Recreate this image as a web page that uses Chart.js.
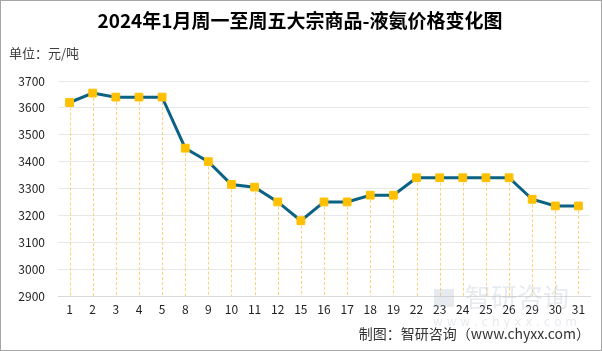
<!DOCTYPE html>
<html>
<head>
<meta charset="utf-8">
<script src="https://cdn.jsdelivr.net/npm/chart.js@4"></script>
<style>
  html, body { margin: 0; padding: 0; background: #fff; }
  #wrap { width: 602px; height: 351px; }
</style>
</head>
<body>
<div id="wrap"><canvas id="chart" width="602" height="351"></canvas></div>
<script>
// days of January 2024 (working days only)
const days = ['1', '2', '3', '4', '5', '8', '9', '10', '11', '12', '15', '16', '17', '18', '19', '22', '23', '24', '25', '26', '29', '30', '31'];
// liquid ammonia price, yuan/ton
const prices = [3620, 3655, 3640, 3640, 3640, 3450, 3400, 3315, 3305, 3250, 3180, 3250, 3250, 3275, 3275, 3340, 3340, 3340, 3340, 3340, 3260, 3235, 3235];
const yMin = 2900;
const yMax = 3700;
const yStep = 100;

const titleText = '2024年1月周一至周五大宗商品-液氨价格变化图';
const unitText = '单位：元/吨';
const sourceText = '制图：智研咨询（www.chyxx.com）';

const cjkFont = '"Noto Sans CJK SC", "Noto Sans", sans-serif';

// dashed drop lines from every point down to the x axis
const dropLines = {
    id: 'dropLines',
    beforeDatasetsDraw(chart) {
        const ctx = chart.ctx;
        const meta = chart.getDatasetMeta(0);
        const bottom = chart.scales.y.getPixelForValue(yMin);
        ctx.save();
        ctx.strokeStyle = '#ffd27a';
        ctx.lineWidth = 1;
        ctx.setLineDash([3, 2]);
        meta.data.forEach(pt => {
            const x = Math.round(pt.x) + 0.5;
            ctx.beginPath();
            ctx.moveTo(x, pt.y);
            ctx.lineTo(x, bottom);
            ctx.stroke();
        });
        ctx.restore();
    }
};

// title, unit, source, watermark and frame
const texts = {
    id: 'texts',
    afterDraw(chart) {
        const ctx = chart.ctx;
        ctx.save();
        ctx.fillStyle = '#000';
        ctx.font = 'bold 19px ' + cjkFont;
        ctx.textAlign = 'center';
        ctx.textBaseline = 'middle';
        ctx.fillText(titleText, 300, 21);

        ctx.fillStyle = '#404040';
        ctx.font = '13px ' + cjkFont;
        ctx.textAlign = 'left';
        ctx.fillText(unitText, 9, 53);

        // watermark
        ctx.fillStyle = 'rgba(175, 185, 200, 0.3)';
        ctx.font = '26px ' + cjkFont;
        ctx.fillText('智研咨询', 465, 297);
        ctx.font = '12px "DejaVu Sans", sans-serif';
        ctx.fillText('w w w . c h y x x . c o m', 433, 323);
        ctx.fillRect(434, 289, 20, 18);

        ctx.fillStyle = '#333';
        ctx.font = '14px ' + cjkFont;
        ctx.textAlign = 'right';
        ctx.fillText(sourceText, 590, 334);

        ctx.strokeStyle = '#a6a6a6';
        ctx.lineWidth = 1;
        ctx.strokeRect(0.5, 0.5, 601, 350);
        ctx.restore();
    }
};

new Chart(document.getElementById('chart'), {
    type: 'line',
    data: {
        labels: days,
        datasets: [{
            data: prices,
            borderColor: '#0b6283',
            borderWidth: 3,
            tension: 0,
            pointStyle: 'rect',
            pointRadius: 5.5,
            pointHoverRadius: 5.5,
            pointBackgroundColor: '#ffc000',
            pointBorderColor: '#ffc000',
            pointBorderWidth: 1
        }]
    },
    options: {
        responsive: false,
        animation: false,
        layout: { padding: { top: 81, right: 12, bottom: 35, left: 0 } },
        plugins: {
            legend: { display: false },
            title: { display: false },
            tooltip: { enabled: false }
        },
        scales: {
            x: {
                offset: true,
                grid: { display: false, drawTicks: false },
                border: { display: true, color: '#d9d9d9', width: 1 },
                ticks: {
                    color: '#222',
                    font: { size: 12, family: cjkFont },
                    padding: 6,
                    maxRotation: 0,
                    autoSkip: false
                },
                afterFit(scale) { scale.height = 20; }
            },
            y: {
                min: yMin,
                max: yMax,
                grid: { color: '#e8e8e8', drawTicks: false },
                border: { display: false },
                ticks: {
                    stepSize: yStep,
                    color: '#222',
                    font: { size: 12, family: cjkFont },
                    padding: 13,
                    callback: v => String(v)
                },
                afterFit(scale) { scale.width = 58; }
            }
        }
    },
    plugins: [dropLines, texts]
});
</script>
</body>
</html>
